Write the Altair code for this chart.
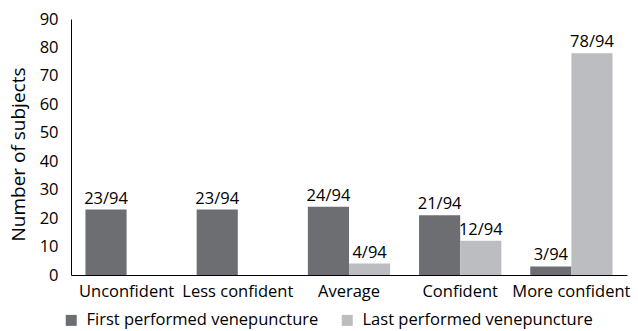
import altair as alt
import pandas as pd

categories = ["Unconfident", "Less confident", "Average", "Confident", "More confident"]
series = ["First performed venepuncture", "Last performed venepuncture"]
first_vals = [23, 23, 24, 21, 3]
last_vals = [0, 0, 4, 12, 78]
total = 94

rows = []
for c, f, l in zip(categories, first_vals, last_vals):
    rows.append({"cat": c, "series": series[0], "value": f,
                 "label": f"{f}/{total}" if f > 0 else ""})
    rows.append({"cat": c, "series": series[1], "value": l,
                 "label": f"{l}/{total}" if l > 0 else ""})
df = pd.DataFrame(rows)

FONT = "Open Sans"
FS = 16.5
x = alt.X("cat:N", sort=categories, title=None,
          scale=alt.Scale(paddingInner=0.26, paddingOuter=0.13),
          axis=alt.Axis(labelAngle=0, ticks=False, domainColor="black",
                        labelFontSize=FS, labelColor="black", labelPadding=8,
                        labelFont=FONT, labelLimit=0))
xo = alt.XOffset("series:N", sort=series)
y = alt.Y("value:Q", title="Number of subjects",
          scale=alt.Scale(domain=[0, 90], nice=False),
          axis=alt.Axis(values=list(range(0, 91, 10)), grid=False, ticks=False,
                        domainColor="black", labelFontSize=FS, labelColor="black",
                        labelPadding=13, titleFontSize=19, titleFontWeight="normal",
                        titleColor="black", titlePadding=11, labelFont=FONT,
                        titleFont=FONT, titleY=135))

bars = alt.Chart(df).mark_bar().encode(
    x=x, xOffset=xo, y=y,
    color=alt.Color("series:N", sort=series,
                    scale=alt.Scale(domain=series, range=["#6d6e71", "#bcbdc0"]),
                    legend=alt.Legend(title=None, orient="none", direction="horizontal",
                                      legendX=-8, legendY=293, symbolType="square",
                                      symbolSize=121, labelFontSize=FS, labelFont=FONT,
                                      labelColor="black", columnPadding=20,
                                      labelOffset=7, labelLimit=0,
                                      symbolStrokeWidth=0)),
)

text = alt.Chart(df).mark_text(baseline="bottom", dy=-3, fontSize=FS, font=FONT,
                               color="black").encode(
    x=x, xOffset=xo, y=y, text="label:N")

chart = (bars + text).properties(
    width=556, height=256,
    autosize=alt.AutoSizeParams(type="none"),
    padding={"left": 71, "top": 19, "right": 11, "bottom": 56},
).configure_view(stroke=None)

chart.save("out.html", embed_options={"renderer": "svg", "actions": False})
